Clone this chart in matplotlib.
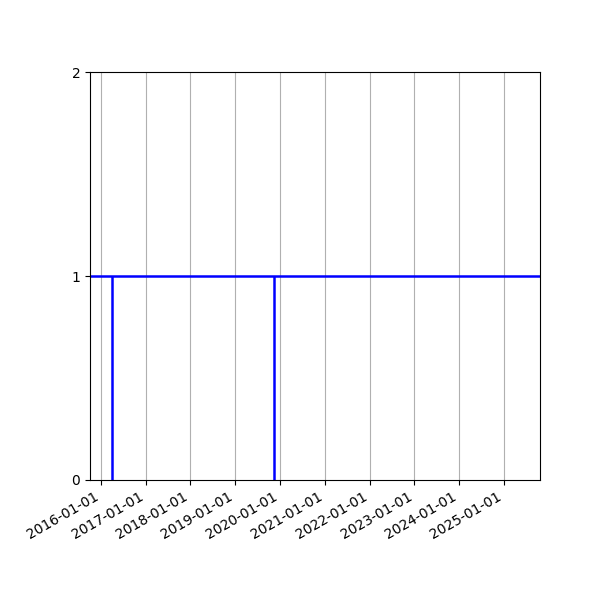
import numpy as np
import matplotlib
matplotlib.use("Agg")
import matplotlib.pyplot as plt
import matplotlib.dates as mdates

# dates where the value switches
event_dates = np.array(["2016-04-03", "2019-11-14"], dtype="datetime64[D]")
event_low = [0, 0]
event_high = [1, 1]
level = 1
x_range = np.array(["2016-03-21", "2025-05-08"], dtype="datetime64[D]")

fig, ax = plt.subplots(figsize=(6, 6), dpi=100)
fig.subplots_adjust(left=0.15, right=0.9, top=0.88)

ax.vlines(event_dates, event_low, event_high, color="blue", linewidth=1.8)
ax.axhline(level, color="blue", linewidth=1.8)

# invisible points only to get the same autoscaled x range
ax.plot(x_range, [level, level], alpha=0)

ax.set_ylim(0, 2)
ax.set_yticks([0, 1, 2])
ax.xaxis.set_major_locator(mdates.YearLocator())
ax.xaxis.set_major_formatter(mdates.DateFormatter("%Y-%m-%d"))
ax.grid(axis="x")
fig.autofmt_xdate()

fig.savefig("out.png")
